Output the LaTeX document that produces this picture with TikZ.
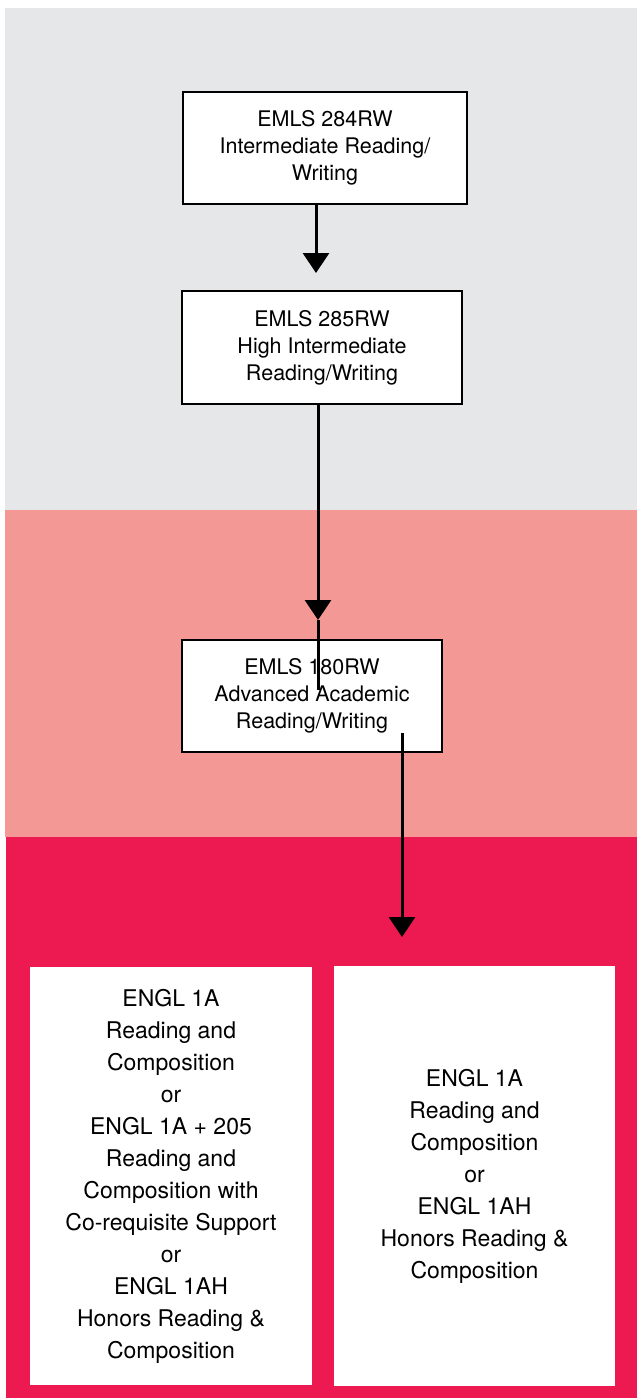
\documentclass[tikz,border=0pt]{standalone}
\usepackage{fontspec}
\setmainfont{TeX Gyre Heros}
\usetikzlibrary{arrows.meta, positioning}

\definecolor{bandgray}{RGB}{230,231,232}
\definecolor{bandpink}{RGB}{244,152,150}
\definecolor{bandred}{RGB}{236,26,80}

\begin{document}
\begin{tikzpicture}[
    x=1pt, y=-1pt,
    node distance=303.5pt,
    on grid,
    course/.style={draw=black, line width=1.3pt, fill=white, align=center, inner sep=0pt, font=\fontsize{21.5}{27}\selectfont},
    target/.style={fill=white, align=center, inner sep=0pt, font=\fontsize{23}{32}\selectfont},
    every edge/.append style={line width=3pt, -{Triangle[length=20pt, width=26pt]}}
]
   \useasboundingbox (0,0) rectangle (637,1399);
   \fill[white] (0,0) rectangle (637,1399);

   % Bands
   \fill[bandgray] (5,8) rectangle (637,510);
   \fill[bandpink] (5,510) rectangle (637,837);
   \fill[bandred] (6,837) rectangle (637,1398);

   % Courses
   \node[course, minimum width=284pt, minimum height=112pt] (e284) at (325,148) {EMLS 284RW\\Intermediate Reading/\\Writing};
   \node[course, minimum width=280pt, minimum height=113pt] (e285) at (322,347.5) {EMLS 285RW\\High Intermediate\\Reading/Writing};
   \node[course, minimum width=260pt, minimum height=112pt] (e180) at (312,696) {EMLS 180RW\\Advanced Academic\\Reading/Writing};

   % English courses
   \node[target, minimum width=282pt, minimum height=418pt] (englA) at (171,1176) {ENGL 1A\\Reading and\\Composition\\or\\ENGL 1A + 205\\Reading and\\Composition with\\Co-requisite Support\\or\\ENGL 1AH\\Honors Reading \&\\Composition};
   \node[target, minimum width=281pt, minimum height=420pt] (englB) [right=of englA] {ENGL 1A\\Reading and\\Composition\\or\\ENGL 1AH\\Honors Reading \&\\Composition};

   % Arrow ends
   \coordinate (t1) at (316,273);
   \coordinate (t2) at (318,620);
   \coordinate (s2) at (318,690);
   \coordinate (s3) at (402,733);
   \coordinate (t3) at (402,937);

   % Arrows
   \path
   (t1 |- e284.south) edge (t1)
   (t2 |- e285.south) edge (t2)
   (s3) edge (t3);
   \draw[line width=3pt] (t2) -- (s2);
\end{tikzpicture}
\end{document}
